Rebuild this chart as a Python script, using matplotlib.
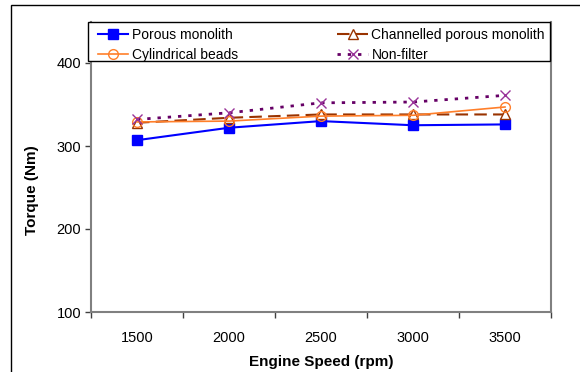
"""
Engine torque against engine speed for different filter types.
"""
import matplotlib
matplotlib.use('Agg')
import matplotlib.pyplot as plt
from matplotlib.patches import Rectangle

plt.rcParams['font.family'] = ['Liberation Sans', 'DejaVu Sans']

speeds = ['1500', '2000', '2500', '3000', '3500']
porous_monolith = [307, 322, 330, 325, 326]
channelled_monolith = [328, 334, 338, 338, 338]
cylindrical_beads = [329, 330, 336, 337, 347]
non_filter = [332, 340, 352, 353, 361]

W, H = 580, 372
fig = plt.figure(figsize=(W / 100, H / 100), dpi=100)
ax = fig.add_axes([91 / W, 1 - 312 / H, 460 / W, (312 - 21.5) / H])

# frame around the chart area, cut off at the right and bottom
fig.patches.append(Rectangle((11 / W, -0.1), 1.2, 1 - 5 / H + 0.1,
                             transform=fig.transFigure, fill=False,
                             edgecolor='black', linewidth=1.0))

x = list(range(len(speeds)))
h_pm, = ax.plot(x, porous_monolith, color='#0000FF', linewidth=1.5, marker='s',
                markersize=7, markerfacecolor='#0000FF', markeredgecolor='#0000FF',
                label='Porous monolith')
h_cm, = ax.plot(x, channelled_monolith, color='#993300', linewidth=1.5,
                linestyle=(0, (6, 3)), marker='^', markersize=7,
                markerfacecolor='white', markeredgecolor='#993300',
                label='Channelled porous monolith', zorder=2.1)
h_cb, = ax.plot(x, cylindrical_beads, color='#FF7F2A', linewidth=1.2, marker='o',
                markersize=7, markerfacecolor='none', markeredgecolor='#FF7F2A',
                label='Cylindrical beads', zorder=2.2)
h_nf, = ax.plot(x, non_filter, color='#660066', linewidth=2.0,
                linestyle=(0, (1.2, 2.5)), marker='x', markersize=7,
                markeredgewidth=1.0, markeredgecolor='#993399',
                label='Non-filter', zorder=2.3)

ax.set_xlim(-0.5, len(speeds) - 0.5)
ax.set_ylim(100, 450)
ax.set_yticks([100, 200, 300, 400])

# category boundaries get the tick marks, labels sit at the centres
ax.set_xticks([i - 0.5 for i in range(len(speeds) + 1)])
ax.set_xticklabels([])
ax.set_xticks(x, minor=True)
ax.set_xticklabels(speeds, minor=True)
ax.tick_params(axis='x', which='minor', length=0, pad=14, labelsize=10.5)
ax.tick_params(axis='x', which='major', length=4, width=1, color='#404040')
ax.tick_params(axis='y', length=4, width=1, color='#404040', labelsize=10.5, pad=3)

for name in ['left', 'bottom', 'right']:
    ax.spines[name].set_color('#808080')
    ax.spines[name].set_linewidth(1.5)
ax.spines['top'].set_visible(False)

ax.set_xlabel('Engine Speed (rpm)', fontsize=11, fontweight='bold')
ax.set_ylabel('Torque (Nm)', fontsize=11, fontweight='bold')
ax.xaxis.set_label_coords(0.5, -0.148)
ax.yaxis.set_label_coords(-0.113, 0.42)

# legend box drawn separately so the entries can sit with Excel-like padding
ax.add_patch(Rectangle((-0.0065, 0.864), 1.0045, 0.134, transform=ax.transAxes,
                       facecolor='white', edgecolor='black', linewidth=1.0,
                       zorder=4, clip_on=False))

# row-major order: matplotlib fills legend columns first
handles = [h_pm, h_cb, h_cm, h_nf]
leg = ax.legend(handles=handles, labels=[h.get_label() for h in handles],
                ncol=2, loc='upper left', bbox_to_anchor=(0.015, 0.979),
                fontsize=10, frameon=False, borderaxespad=0, borderpad=0,
                handlelength=2.2, handletextpad=0.25, labelspacing=0.43,
                columnspacing=7.15)
leg.set_zorder(5)

fig.savefig('out.png', dpi=100)
